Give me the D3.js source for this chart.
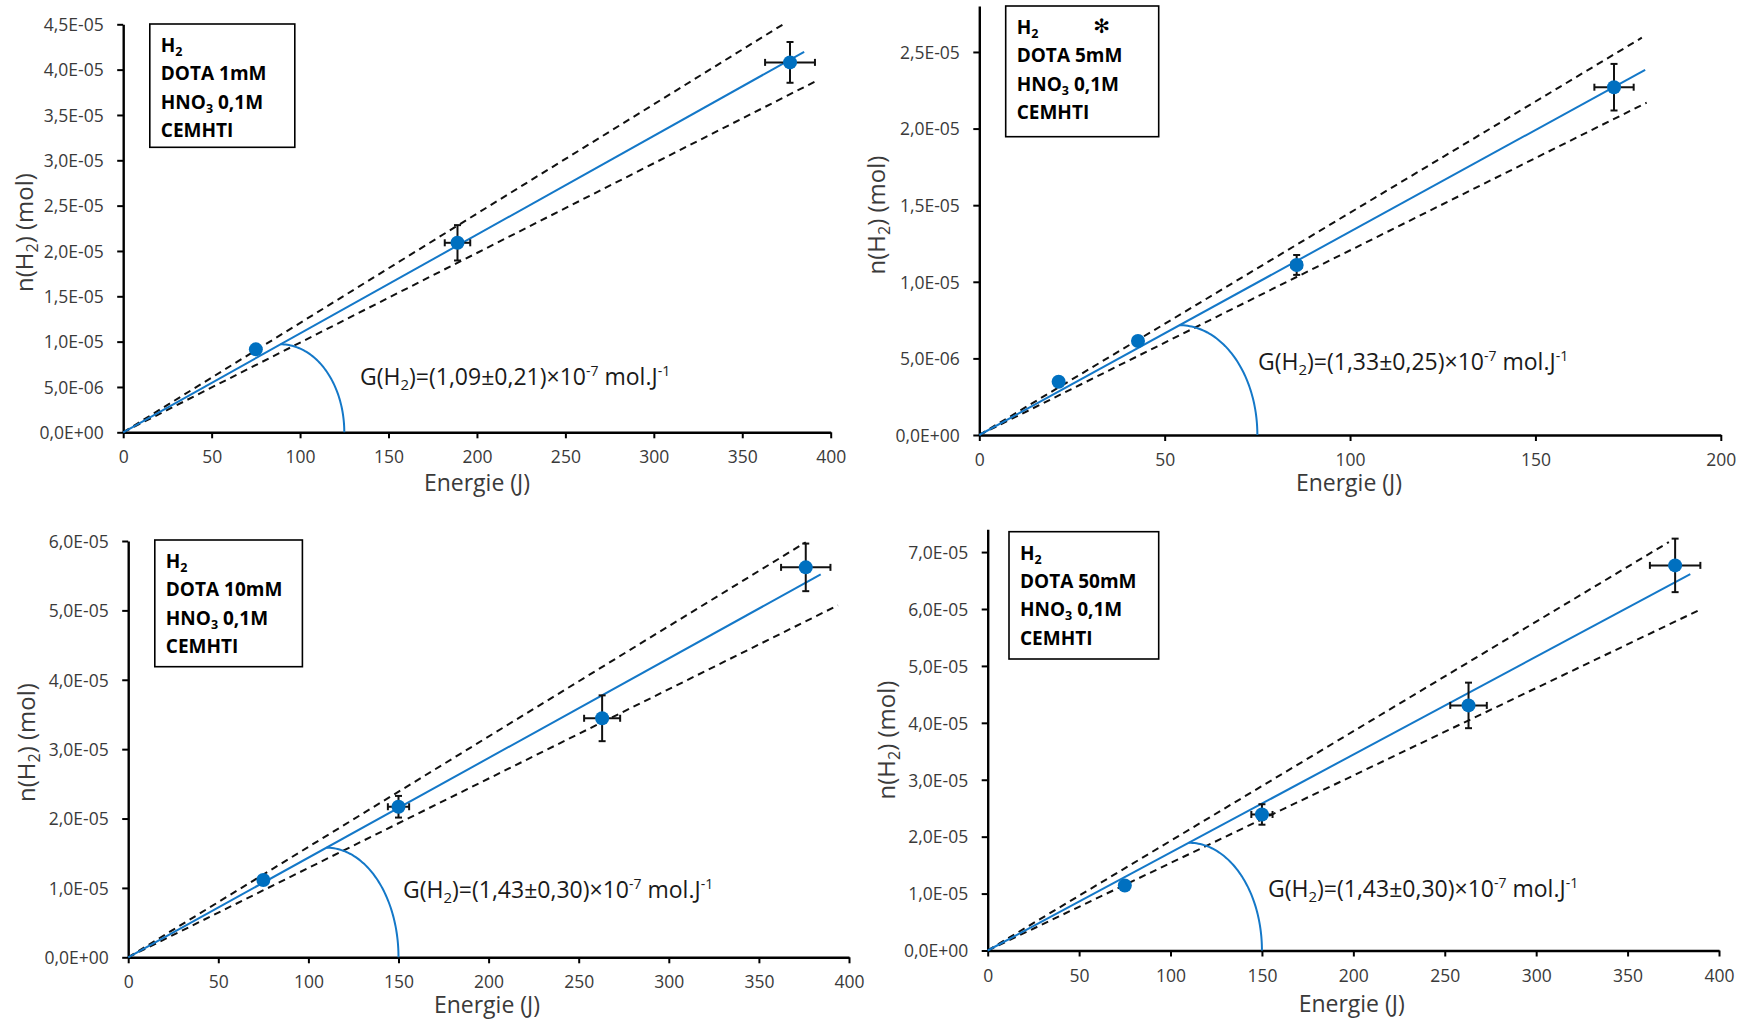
<!DOCTYPE html>
<html><head><meta charset="utf-8">
<script src="https://cdn.jsdelivr.net/npm/d3@7"></script>
<style>
body{margin:0;background:#fff;}
svg{display:block;}
text{font-family:'Open Sans','Noto Sans',sans-serif;}
</style>
</head><body>
<svg id="chart" width="1749" height="1019"></svg>
<script>
// ---------------- DATA ----------------
// Panel 1 : DOTA 1mM
const energy1 = [75, 189, 377];
const nH2_1   = [9.15e-6, 2.09e-5, 4.08e-5];
const errE1   = [0, 7.2, 14.1];
const errN1   = [0, 1.95e-6, 2.25e-6];
const slopes1 = [1.09e-7, 1.206e-7, 0.989e-7];   // fit, upper, lower
const ends1   = [385, 373, 393];
const arc1    = [89, 125];
const dota1   = "DOTA 1mM";
const gText1  = "1,09±0,21";

// Panel 2 : DOTA 5mM
const energy2 = [21.4, 42.8, 85.6, 171.2];
const nH2_2   = [3.48e-6, 6.14e-6, 1.11e-5, 2.27e-5];
const errE2   = [0, 0, 1.4, 5.3];
const errN2   = [0, 0, 6.5e-7, 1.52e-6];
const slopes2 = [1.327e-7, 1.451e-7, 1.205e-7];
const ends2   = [179.6, 178.7, 180];
const arc2    = [54, 75];
const dota2   = "DOTA 5mM";
const gText2  = "1,33±0,25";

// Panel 3 : DOTA 10mM
const energy3 = [75, 150, 263, 376];
const nH2_3   = [1.114e-5, 2.17e-5, 3.445e-5, 5.62e-5];
const errE3   = [0, 5.9, 10, 13.7];
const errN3   = [0, 1.56e-6, 3.3e-6, 3.43e-6];
const slopes3 = [1.436e-7, 1.591e-7, 1.288e-7];
const ends3   = [384.3, 376, 393.9];
const arc3    = [110, 150];
const dota3   = "DOTA 10mM";
const gText3  = "1,43±0,30";

// Panel 4 : DOTA 50mM
const energy4 = [75, 150, 263, 376];
const nH2_4   = [1.142e-5, 2.39e-5, 4.306e-5, 6.766e-5];
const errE4   = [0, 5.8, 10, 13.8];
const errN4   = [0, 1.8e-6, 4.0e-6, 4.7e-6];
const slopes4 = [1.721e-7, 1.926e-7, 1.537e-7];
const ends4   = [384.3, 372.6, 389.5];
const arc4    = [110, 150];
const dota4   = "DOTA 50mM";
const gText4  = "1,43±0,30";

// Axis ticks / domains
const xTicks400 = [0, 50, 100, 150, 200, 250, 300, 350, 400];
const xTicks200 = [0, 50, 100, 150, 200];
const yTicks1 = [0, 5e-6, 1e-5, 1.5e-5, 2e-5, 2.5e-5, 3e-5, 3.5e-5, 4e-5, 4.5e-5];
const yTicks2 = [0, 5e-6, 1e-5, 1.5e-5, 2e-5, 2.5e-5];
const yTicks3 = [0, 1e-5, 2e-5, 3e-5, 4e-5, 5e-5, 6e-5];
const yTicks4 = [0, 1e-5, 2e-5, 3e-5, 4e-5, 5e-5, 6e-5, 7e-5];
const yMax = [4.5e-5, 2.8e-5, 6e-5, 7.4e-5];
const xMax = [400, 200, 400, 400];

// ---------------- LAYOUT ----------------
const layout = [
  {x0:123.2, x1:830.7,  y0:432.3, yTop:24.3,  box:[149.8,24,145,123.3],      ann:[360,385],  xt:[477,491],    yt:[24.5,232.5], star:false},
  {x0:979.3, x1:1720.8, y0:435,   yTop:6.0,   box:[1005.7,6,153,130.7],      ann:[1258,370], xt:[1349,491],   yt:[877,215],   star:true},
  {x0:128.2, x1:849,    y0:957.3, yTop:541,   box:[154.8,540,147.6,126.7],   ann:[403,898],  xt:[487,1013],   yt:[27,742.5],  star:false},
  {x0:987.7, x1:1719,   y0:950.5, yTop:529.3, box:[1009,531.7,149.7,127.3],  ann:[1268,897], xt:[1351.7,1012], yt:[887,740],   star:false}
];

const panels = [
  {E:energy1, N:nH2_1, eE:errE1, eN:errN1, s:slopes1, ends:ends1, arc:arc1, dota:dota1, g:gText1, xt:xTicks400, yt:yTicks1},
  {E:energy2, N:nH2_2, eE:errE2, eN:errN2, s:slopes2, ends:ends2, arc:arc2, dota:dota2, g:gText2, xt:xTicks200, yt:yTicks2},
  {E:energy3, N:nH2_3, eE:errE3, eN:errN3, s:slopes3, ends:ends3, arc:arc3, dota:dota3, g:gText3, xt:xTicks400, yt:yTicks3},
  {E:energy4, N:nH2_4, eE:errE4, eN:errN4, s:slopes4, ends:ends4, arc:arc4, dota:dota4, g:gText4, xt:xTicks400, yt:yTicks4}
];

const BLUE = "#0070C0";
const LINEBLUE = "#1478c8";
const TICKCOL = "#3a3a3a";

function sci(v){
  if (v === 0) return "0,0E+00";
  const e = Math.floor(Math.log10(Math.abs(v)) + 1e-9);
  const m = v / Math.pow(10, e);
  return m.toFixed(1).replace('.', ',') + 'E' + (e < 0 ? '-' : '+') + String(Math.abs(e)).padStart(2, '0');
}

const svg = d3.select('#chart');

panels.forEach((p, i) => {
  const L = layout[i];
  const g = svg.append('g');
  const x = d3.scaleLinear().domain([0, xMax[i]]).range([L.x0, L.x1]);
  const y = d3.scaleLinear().domain([0, yMax[i]]).range([L.y0, L.yTop]);

  // axes
  const xa = g.append('g').attr('transform', `translate(0,${L.y0})`)
    .call(d3.axisBottom(x).tickValues(p.xt).tickFormat(d => d).tickSize(6).tickSizeOuter(0));
  xa.selectAll('text').attr('y', 31).attr('dy', 0).attr('fill', TICKCOL).style('font-size', '17.5px');
  const ya = g.append('g').attr('transform', `translate(${L.x0},0)`)
    .call(d3.axisLeft(y).tickValues(p.yt).tickFormat(sci).tickSize(6).tickSizeOuter(0));
  ya.selectAll('text').attr('x', -19.5).attr('dy', '0.36em').attr('fill', TICKCOL).style('font-size', '17.5px');
  [xa, ya].forEach(a => {
    a.select('.domain').attr('stroke', '#000').attr('stroke-width', 2.4);
    a.selectAll('.tick line').attr('stroke', '#000').attr('stroke-width', 2);
  });

  // axis titles
  g.append('text').attr('x', L.xt[0]).attr('y', L.xt[1]).attr('text-anchor', 'middle')
    .style('font-size', '23px').attr('fill', TICKCOL).text('Energie (J)');
  const yt = g.append('text').attr('transform', `translate(${L.yt[0] + 8},${L.yt[1]}) rotate(-90)`)
    .attr('text-anchor', 'middle').style('font-size', '24px').attr('fill', TICKCOL);
  yt.append('tspan').text('n(H');
  yt.append('tspan').text('2').style('font-size', '16px').attr('dy', 5);
  yt.append('tspan').text(') (mol)').attr('dy', -5);

  // dashed limit lines and fit line
  const lineGen = d3.line().x(d => x(d[0])).y(d => y(d[1]));
  [1, 2].forEach(k => {
    g.append('path').datum([[0, 0], [p.ends[k], p.s[k] * p.ends[k]]]).attr('d', lineGen)
      .attr('stroke', '#111').attr('stroke-width', 2).attr('stroke-dasharray', '7,5').attr('fill', 'none');
  });
  g.append('path').datum([[0, 0], [p.ends[0], p.s[0] * p.ends[0]]]).attr('d', lineGen)
    .attr('stroke', LINEBLUE).attr('stroke-width', 2).attr('fill', 'none');

  // angle arc (quarter ellipse from fit line down to x axis)
  const a0 = p.arc[0], a1 = p.arc[1], h = p.s[0] * a0;
  const arcPts = d3.range(0, 61).map(j => {
    const t = j / 60 * Math.PI / 2;
    return [a0 + (a1 - a0) * Math.sin(t), h * Math.cos(t)];
  });
  g.append('path').datum(arcPts).attr('d', lineGen)
    .attr('stroke', LINEBLUE).attr('stroke-width', 2).attr('fill', 'none');

  // error bars
  const eb = g.append('g').attr('stroke', '#111').attr('stroke-width', 2);
  const cap = 3.5;
  p.E.forEach((e, j) => {
    const n = p.N[j];
    if (p.eN[j] > 0) {
      const yA = y(n + p.eN[j]), yB = y(n - p.eN[j]), xc = x(e);
      eb.append('line').attr('x1', xc).attr('x2', xc).attr('y1', yA).attr('y2', yB);
      eb.append('line').attr('x1', xc - cap).attr('x2', xc + cap).attr('y1', yA).attr('y2', yA);
      eb.append('line').attr('x1', xc - cap).attr('x2', xc + cap).attr('y1', yB).attr('y2', yB);
    }
    if (p.eE[j] > 0) {
      const xA = x(e - p.eE[j]), xB = x(e + p.eE[j]), yc = y(n);
      eb.append('line').attr('x1', xA).attr('x2', xB).attr('y1', yc).attr('y2', yc);
      eb.append('line').attr('x1', xA).attr('x2', xA).attr('y1', yc - cap).attr('y2', yc + cap);
      eb.append('line').attr('x1', xB).attr('x2', xB).attr('y1', yc - cap).attr('y2', yc + cap);
    }
  });

  // markers
  g.selectAll('circle.pt').data(p.E).enter().append('circle')
    .attr('cx', d => x(d)).attr('cy', (d, j) => y(p.N[j])).attr('r', 7).attr('fill', BLUE);

  // annotation
  const an = g.append('text').attr('x', L.ann[0]).attr('y', L.ann[1]).style('font-size', '23px').attr('fill', '#1a1a1a');
  an.append('tspan').text('G(H');
  an.append('tspan').text('2').style('font-size', '15px').attr('dy', 5);
  an.append('tspan').text(')=(' + p.g + ')×10').attr('dy', -5);
  an.append('tspan').text('-7').style('font-size', '14px').attr('dy', -9);
  an.append('tspan').text(' mol.J').attr('dy', 9);
  an.append('tspan').text('-1').style('font-size', '14px').attr('dy', -9);

  // legend box
  const [bx, by, bw, bh] = L.box;
  g.append('rect').attr('x', bx).attr('y', by).attr('width', bw).attr('height', bh)
    .attr('fill', '#fff').attr('stroke', '#000').attr('stroke-width', 1.6);
  const lx = bx + 11, ly = by + 28, dl = 28.3;
  const lt = (k) => g.append('text').attr('x', lx).attr('y', ly + k * dl)
    .style('font-size', '19px').style('font-weight', 700).attr('fill', '#000');
  const t0 = lt(0); t0.append('tspan').text('H'); t0.append('tspan').text('2').style('font-size', '12.5px').attr('dy', 4);
  lt(1).text(p.dota);
  const t2 = lt(2); t2.append('tspan').text('HNO'); t2.append('tspan').text('3').style('font-size', '12.5px').attr('dy', 4);
  t2.append('tspan').text(' 0,1M').attr('dy', -4);
  lt(3).text('CEMHTI');
  if (L.star) {
    g.append('text').attr('x', bx + 96).attr('y', ly - 1).attr('text-anchor', 'middle')
      .style('font-family', "'DejaVu Sans',sans-serif").style('font-size', '20px').attr('fill', '#000').text('✻');
  }
});
</script>
</body></html>
